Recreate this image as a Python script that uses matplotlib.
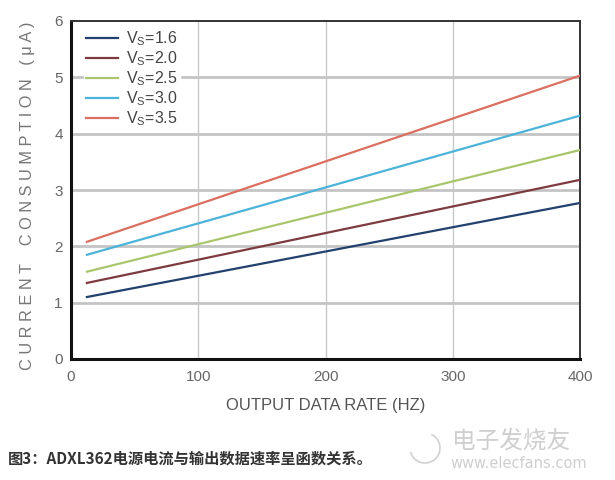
import matplotlib
matplotlib.use("Agg")
import matplotlib.pyplot as plt
from matplotlib.patches import Arc

plt.rcParams['font.family'] = ['Liberation Sans Narrow', 'Liberation Sans', 'DejaVu Sans']
plt.rcParams['mathtext.fontset'] = 'custom'
plt.rcParams['mathtext.rm'] = 'Liberation Sans'
plt.rcParams['mathtext.it'] = 'Liberation Sans'

# Data
odr = [12.5, 400]
supply_labels = ["1.6", "2.0", "2.5", "3.0", "3.5"]
current_vs16 = [1.10, 2.77]
current_vs20 = [1.35, 3.18]
current_vs25 = [1.55, 3.71]
current_vs30 = [1.85, 4.32]
current_vs35 = [2.08, 5.03]
series = [current_vs16, current_vs20, current_vs25, current_vs30, current_vs35]
colors = ["#23406e", "#7d3b3f", "#a9c66c", "#4cb3db", "#db6f5f"]
xticks = [0, 100, 200, 300, 400]
yticks = [0, 1, 2, 3, 4, 5, 6]

fig = plt.figure(figsize=(6.15, 4.8), dpi=100)
ax = fig.add_axes([71/615, 1-359/480, (580-71)/615, (359-21)/480])

for v, ys, c in zip(supply_labels, series, colors):
    ax.plot(odr, ys, color=c, lw=1.6, label=r"V$_\mathrm{S}$=" + v, zorder=3)

ax.set_xlim(0, 400)
ax.set_ylim(0, 6)
ax.set_xticks(xticks)
ax.set_yticks(yticks)
for x in [100, 200, 300]:
    ax.axvline(x, color="#c8c8c8", lw=1.0, zorder=1)
for y in [1, 2, 3, 4, 5]:
    ax.axhline(y, color="#c4c4c4", lw=2.0, zorder=1)

ax.tick_params(axis='both', length=0, labelsize=11, colors="#666666", pad=6)
ax.tick_params(axis='x', pad=8)
for s in ['left', 'bottom']:
    ax.spines[s].set_linewidth(2.2)
    ax.spines[s].set_color("#111111")
for s in ['top', 'right']:
    ax.spines[s].set_linewidth(1.4)
    ax.spines[s].set_color("#333333")

leg = ax.legend(loc='upper left', bbox_to_anchor=(0.025, 0.982), frameon=True,
                framealpha=1.0, edgecolor='white', fontsize=11.5,
                handlelength=2.0, handletextpad=0.5, labelspacing=0.08,
                borderpad=0.15, borderaxespad=0.0)
leg.set_zorder(5)
for t in leg.get_texts():
    t.set_color("#444444")

ax.set_xlabel("OUTPUT DATA RATE (HZ)", fontsize=12, color="#555555", labelpad=10)
fig.text(0.045, 0.592, "C U R R E N T    C O N S U M P T I O N   ( μ A )",
         rotation=90, ha='center', va='center', fontsize=11.8, color="#777777")

fig.text(8/615, 1-459/480, "图3：ADXL362电源电流与输出数据速率呈函数关系。",
         fontsize=11, fontweight='bold', color="#333333", va='center', ha='left',
         family=['Noto Sans CJK SC', 'DejaVu Sans'], style='italic')
fig.text(452/615, 1-441/480, "电子发烧友", fontsize=17, color="#cfcfcf", va='center',
         family=['Noto Sans CJK SC', 'DejaVu Sans'])
fig.text(450/615, 1-463/480, "www.elecfans.com", fontsize=10.5, color="#cfcfcf", va='center',
         family=['DejaVu Sans'])
arc = Arc((425/615, 1-448/480), 30/615, 30/480, theta1=200, theta2=70,
          transform=fig.transFigure, color="#d0d0d0", lw=1.2)
fig.add_artist(arc)

fig.savefig("out.png", dpi=100, facecolor='white')
